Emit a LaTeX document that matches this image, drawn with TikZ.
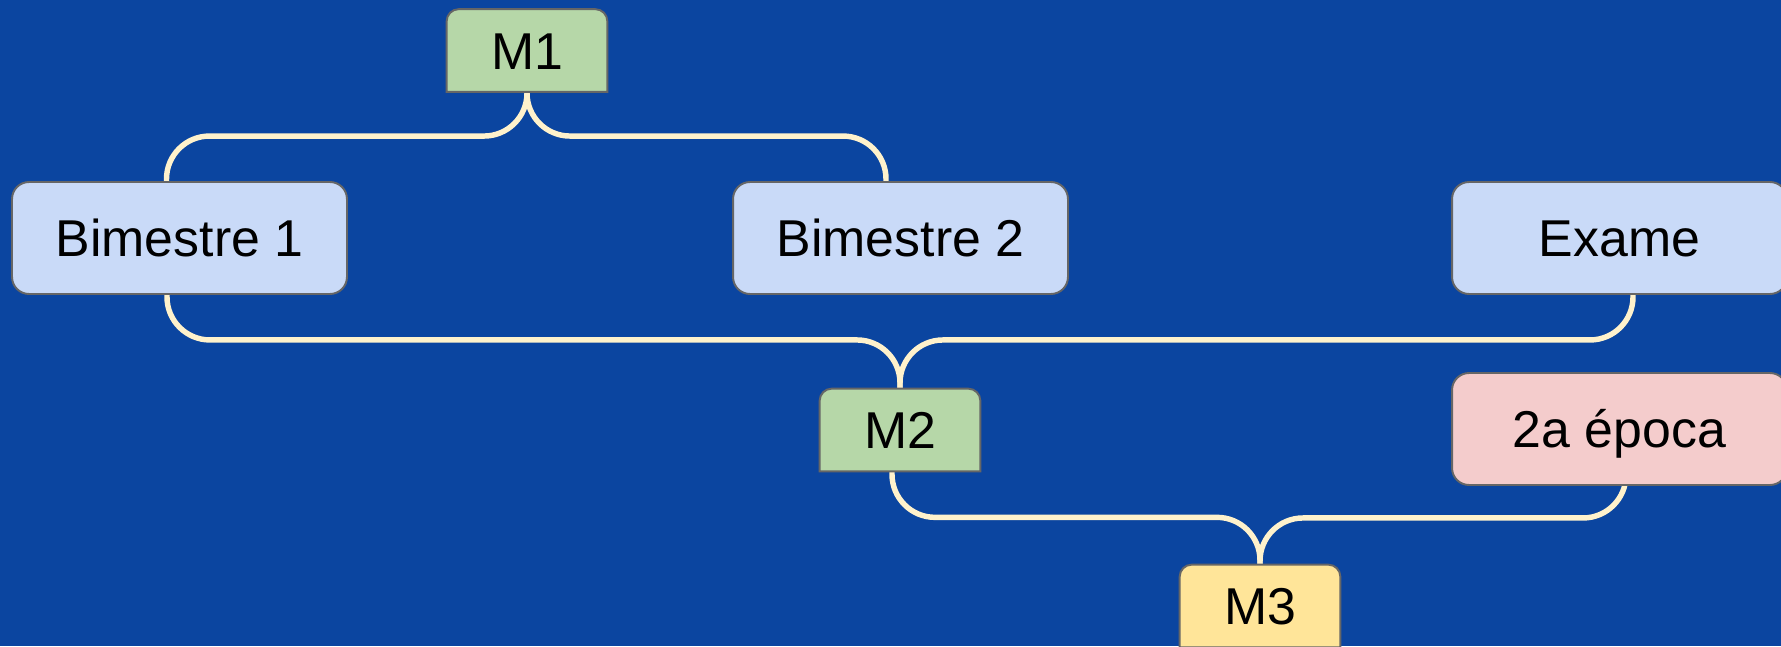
\documentclass[tikz,border=0pt]{standalone}
\usepackage{xcolor}
\usepackage{tikz}
\usepackage{fontspec}
\setmainfont{Liberation Sans}
\usetikzlibrary{positioning, calc}

\definecolor{bgblue}{RGB}{11,69,160}
\definecolor{cream}{HTML}{FFF2CC}
\definecolor{frame}{HTML}{666666}
\definecolor{boxblue}{HTML}{C9DAF8}
\definecolor{boxgreen}{HTML}{B6D7A8}
\definecolor{boxred}{HTML}{F4CCCC}
\definecolor{boxyellow}{HTML}{FFE599}

\pgfdeclarelayer{back}
\pgfdeclarelayer{wires}
\pgfsetlayers{back,wires,main}

\begin{document}
\begin{tikzpicture}[x=0.02cm, y=-0.02cm,
    every node/.style={font=\fontsize{29.5}{34}\selectfont, text height=21.1pt, text depth=0pt},
    term/.style={draw=frame, line width=1.1pt, rounded corners=0.34cm, minimum width=6.7cm, minimum height=2.24cm, inner sep=0pt},
    mbox/.style={minimum width=3.2cm, minimum height=1.64cm, inner sep=0pt},
    wire/.style={draw=cream, line width=3.1pt, rounded corners=0.86cm}]
    \useasboundingbox (0,0) rectangle (1781,646);
    \begin{pgfonlayer}{back}
        \fill[bgblue] (0,0) rectangle (1781,646);
    \end{pgfonlayer}

    % Grades
    \node[term, fill=boxblue] (b1) at (179.5,238) {Bimestre 1};
    \node[term, fill=boxblue] (b2) at (900.5,238) {Bimestre 2};
    \node[term, fill=boxblue] (ex) at (1619.5,238) {Exame};
    \node[term, fill=boxred] (ep) at (1619.5,429) {2a época};

    % Averages
    \node[mbox] (m1) at (527,50.5) {M1};
    \node[mbox] (m2) at (900,430) {M2};
    \node[mbox] (m3) at (1260,606) {M3};

    \begin{pgfonlayer}{wires}
        % Lines
        \draw[wire] ($(b1.north)+(-13,0)$) -- ++(0,-45) -| (m1.south);
        \draw[wire] ($(b2.north)+(-14.5,0)$) -- ++(0,-45) -| (m1.south);
        \draw[wire] ($(b1.south)+(-12.5,0)$) -- ++(0,45) -| (m2.north);
        \draw[wire] ($(ex.south)+(13.5,0)$) -- ++(0,45) -| (m2.north);
        \draw[wire] ($(m2.south)+(-8,0)$) -- ++(0,46) -| (m3.north);
        \draw[wire] ($(ep.south)+(6.5,-15)$) -- ++(0,47) -| (m3.north);

        % Average boxes, only top corners rounded
        \foreach \m/\c in {m1/boxgreen, m2/boxgreen, m3/boxyellow}
            \draw[draw=frame, line width=1.1pt, fill=\c] (\m.south west) [rounded corners=0.24cm] -- (\m.north west) -- (\m.north east) [sharp corners] -- (\m.south east) -- cycle;
    \end{pgfonlayer}
\end{tikzpicture}
\end{document}
